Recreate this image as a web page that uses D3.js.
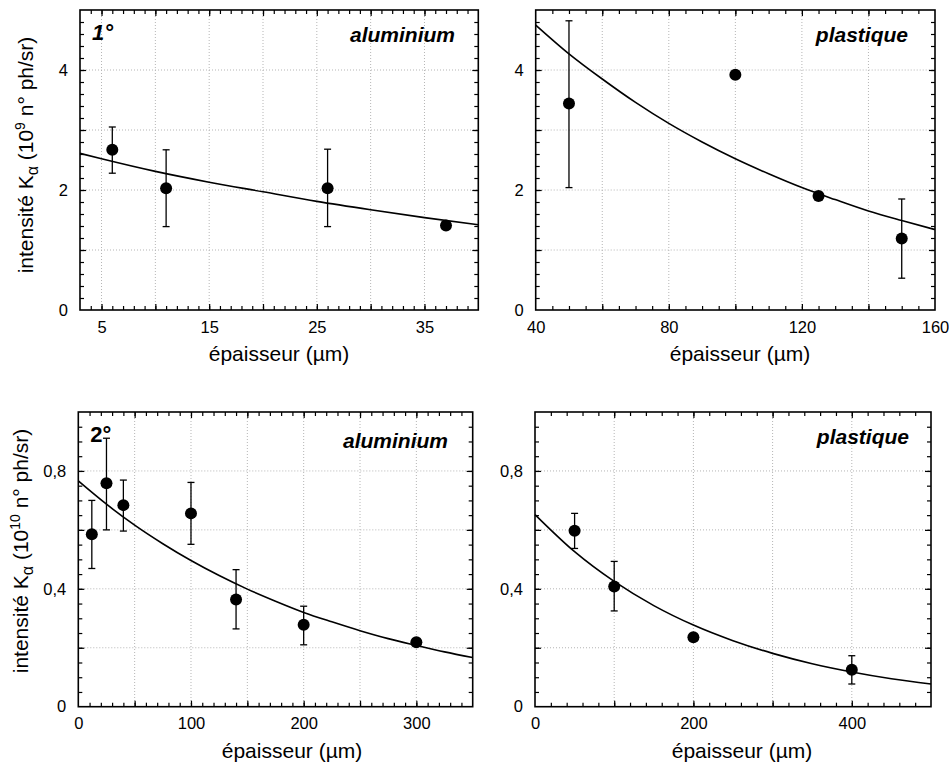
<!DOCTYPE html>
<html>
<head>
<meta charset="utf-8">
<script src="https://cdn.jsdelivr.net/npm/d3@7"></script>
<style>
  html, body { margin: 0; padding: 0; background: #fff; }
  svg { display: block; font-family: "Liberation Sans", Arial, sans-serif; }
</style>
</head>
<body>
<svg id="chart" width="949" height="763"></svg>
<script>
// ---------- DATA ----------
// Panel 1: 1°, aluminium
const al1X = [6, 11, 26, 37];
const al1Y = [2.67, 2.03, 2.03, 1.41];
const al1Lo = [2.28, 1.39, 1.39, null];
const al1Hi = [3.05, 2.67, 2.68, null];
const al1FitX = [3, 5, 10, 15, 20, 25, 30, 35, 40];
const al1FitY = [2.61, 2.52, 2.31, 2.13, 1.97, 1.81, 1.67, 1.54, 1.42];

// Panel 2: 1°, plastique
const pl1X = [50, 100, 125, 150];
const pl1Y = [3.44, 3.92, 1.90, 1.19];
const pl1Lo = [2.04, null, null, 0.53];
const pl1Hi = [4.82, null, null, 1.85];
const pl1FitX = [40, 50, 60, 70, 80, 90, 100, 110, 120, 130, 140, 150, 160];
const pl1FitY = [4.75, 4.27, 3.85, 3.46, 3.11, 2.80, 2.52, 2.27, 2.04, 1.84, 1.65, 1.49, 1.34];

// Panel 3: 2°, aluminium
const al2X = [12, 25, 40, 100, 140, 200, 300];
const al2Y = [0.585, 0.758, 0.684, 0.656, 0.364, 0.278, 0.219];
const al2Lo = [0.469, 0.600, 0.596, 0.551, 0.264, 0.210, null];
const al2Hi = [0.700, 0.911, 0.769, 0.761, 0.465, 0.341, null];
const al2FitX = [0, 25, 50, 75, 100, 125, 150, 175, 200, 225, 250, 275, 300, 325, 350];
const al2FitY = [0.766, 0.687, 0.616, 0.553, 0.496, 0.445, 0.399, 0.358, 0.320, 0.288, 0.258, 0.231, 0.208, 0.186, 0.167];

// Panel 4: 2°, plastique
const pl2X = [50, 100, 200, 400];
const pl2Y = [0.597, 0.408, 0.236, 0.125];
const pl2Lo = [0.537, 0.325, null, 0.077];
const pl2Hi = [0.656, 0.493, null, 0.173];
const pl2FitX = [0, 50, 100, 150, 200, 250, 300, 350, 400, 450, 500];
const pl2FitY = [0.652, 0.526, 0.425, 0.343, 0.277, 0.224, 0.181, 0.146, 0.118, 0.095, 0.077];

// Tick values
const p1XLabels = [5, 15, 25, 35];
const p2XLabels = [40, 80, 120, 160];
const p3XLabels = [0, 100, 200, 300];
const p4XLabels = [0, 200, 400];
const topYLabels = [0, 2, 4];
const botYLabels = [0, 0.4, 0.8];

const xTitle = "épaisseur (µm)";
const materials = ["aluminium", "plastique", "aluminium", "plastique"];
const orders = ["1°", "2°"];

// ---------- DRAWING ----------
const svg = d3.select("#chart");
const fmtComma = v => d3.format("")(v).replace(".", ",");

function range(a, b, step) {
  const out = [];
  const n = Math.round((b - a) / step);
  for (let i = 0; i <= n; i++) out.push(+(a + i * step).toFixed(6));
  return out;
}

function panel(cfg) {
  const g = svg.append("g");
  const x = d3.scaleLinear().domain(cfg.xDomain).range([cfg.left, cfg.right]);
  const y = d3.scaleLinear().domain(cfg.yDomain).range([cfg.bottom, cfg.top]);

  const xMinor = range(cfg.xDomain[0], cfg.xDomain[1], cfg.xMinorStep)
      .filter(v => v > cfg.xDomain[0] && v < cfg.xDomain[1]);
  const xMajor = xMinor.filter(v => Math.abs(v / cfg.xMajorStep - Math.round(v / cfg.xMajorStep)) < 1e-6);
  const yMinor = range(cfg.yDomain[0], cfg.yDomain[1], cfg.yMinorStep)
      .filter(v => v > cfg.yDomain[0] && v < cfg.yDomain[1]);
  const yMajor = yMinor.filter(v => Math.abs(v / cfg.yMajorStep - Math.round(v / cfg.yMajorStep)) < 1e-6);

  // grid
  g.append("g").selectAll("line.gx").data(xMajor).join("line")
    .attr("x1", d => x(d)).attr("x2", d => x(d))
    .attr("y1", cfg.top).attr("y2", cfg.bottom)
    .attr("stroke", "#b5b5b5").attr("stroke-width", 1).attr("stroke-dasharray", "1,2");
  g.append("g").selectAll("line.gy").data(yMajor).join("line")
    .attr("x1", cfg.left).attr("x2", cfg.right)
    .attr("y1", d => y(d)).attr("y2", d => y(d))
    .attr("stroke", "#b5b5b5").attr("stroke-width", 1).attr("stroke-dasharray", "1,2");

  // ticks on all sides, inward
  const tickAxis = (axisFn, scale, vals, size, transform) => {
    const a = g.append("g").attr("transform", transform)
      .call(axisFn(scale).tickValues(vals).tickSize(size).tickFormat(""));
    a.select(".domain").remove();
    a.selectAll(".tick line").attr("stroke", "#000").attr("stroke-width", 1.2);
  };
  tickAxis(d3.axisBottom, x, xMinor, -4, `translate(0,${cfg.bottom})`);
  tickAxis(d3.axisBottom, x, xMajor, -6, `translate(0,${cfg.bottom})`);
  tickAxis(d3.axisTop, x, xMinor, -4, `translate(0,${cfg.top})`);
  tickAxis(d3.axisTop, x, xMajor, -6, `translate(0,${cfg.top})`);
  tickAxis(d3.axisLeft, y, yMinor, -4, `translate(${cfg.left},0)`);
  tickAxis(d3.axisLeft, y, yMajor, -6, `translate(${cfg.left},0)`);
  tickAxis(d3.axisRight, y, yMinor, -4, `translate(${cfg.right},0)`);
  tickAxis(d3.axisRight, y, yMajor, -6, `translate(${cfg.right},0)`);

  // labels
  const xl = g.append("g").attr("transform", `translate(0,${cfg.bottom})`)
    .call(d3.axisBottom(x).tickValues(cfg.xLabels).tickSize(0).tickPadding(11).tickFormat(d3.format("")));
  xl.select(".domain").remove();
  xl.selectAll("text").attr("font-size", 16.5).attr("fill", "#000")
    .attr("font-family", '"Liberation Sans", Arial, sans-serif');
  const yl = g.append("g").attr("transform", `translate(${cfg.left},0)`)
    .call(d3.axisLeft(y).tickValues(cfg.yLabels).tickSize(0).tickPadding(12).tickFormat(cfg.yFormat));
  yl.select(".domain").remove();
  yl.selectAll("text").attr("font-size", 16.5).attr("fill", "#000")
    .attr("font-family", '"Liberation Sans", Arial, sans-serif');

  // frame
  g.append("rect").attr("x", cfg.left).attr("y", cfg.top)
    .attr("width", cfg.right - cfg.left).attr("height", cfg.bottom - cfg.top)
    .attr("fill", "none").attr("stroke", "#000").attr("stroke-width", 1.6);

  // fit line
  const fit = cfg.fitX.map((v, i) => [v, cfg.fitY[i]]);
  g.append("path").datum(fit)
    .attr("d", d3.line().x(d => x(d[0])).y(d => y(d[1])).curve(d3.curveMonotoneX))
    .attr("fill", "none").attr("stroke", "#000").attr("stroke-width", 1.6);

  // error bars
  const pts = cfg.px.map((v, i) => ({ x: v, y: cfg.py[i], lo: cfg.lo[i], hi: cfg.hi[i] }));
  const eb = g.append("g").selectAll("g").data(pts.filter(d => d.lo != null)).join("g")
    .attr("stroke", "#000").attr("stroke-width", 1.3);
  eb.append("line").attr("x1", d => x(d.x)).attr("x2", d => x(d.x))
    .attr("y1", d => y(d.lo)).attr("y2", d => y(d.hi));
  eb.append("line").attr("x1", d => x(d.x) - 3.5).attr("x2", d => x(d.x) + 3.5)
    .attr("y1", d => y(d.lo)).attr("y2", d => y(d.lo));
  eb.append("line").attr("x1", d => x(d.x) - 3.5).attr("x2", d => x(d.x) + 3.5)
    .attr("y1", d => y(d.hi)).attr("y2", d => y(d.hi));

  // points
  g.append("g").selectAll("circle").data(pts).join("circle")
    .attr("cx", d => x(d.x)).attr("cy", d => y(d.y)).attr("r", 6).attr("fill", "#000");

  // material label
  g.append("text").attr("x", cfg.matX).attr("y", cfg.matY).attr("text-anchor", "end")
    .attr("font-size", 21).attr("font-weight", "bold").attr("font-style", "italic")
    .text(cfg.material);
  if (cfg.order) {
    g.append("text").attr("x", cfg.left + 12).attr("y", cfg.top + 30)
      .attr("font-size", 22).attr("font-weight", "bold").attr("font-style", cfg.orderItalic ? "italic" : "normal")
      .text(cfg.order);
  }

  // x title
  g.append("text").attr("x", cfg.xTitleX).attr("y", cfg.bottom + 51).attr("text-anchor", "middle")
    .attr("font-size", 21).text(xTitle);
}

function yTitle(tx, ty, exp) {
  const t = svg.append("text").attr("transform", `translate(${tx},${ty}) rotate(-90)`)
    .attr("text-anchor", "middle").attr("font-size", 21);
  t.append("tspan").text("intensité K");
  t.append("tspan").attr("font-size", 16).attr("dy", 5).text("α");
  t.append("tspan").attr("dy", -5).text("  (10");
  t.append("tspan").attr("font-size", 14).attr("dy", -8).text(exp);
  t.append("tspan").attr("dy", 8).text(" n°  ph/sr)");
}

panel({ left: 80, right: 478.3, top: 10, bottom: 310,
  xDomain: [3, 40], yDomain: [0, 5], xMinorStep: 1, xMajorStep: 5, yMinorStep: 0.2, yMajorStep: 1,
  xLabels: p1XLabels, yLabels: topYLabels, yFormat: d3.format(""),
  px: al1X, py: al1Y, lo: al1Lo, hi: al1Hi, fitX: al1FitX, fitY: al1FitY,
  material: materials[0], matX: 455, matY: 42, order: orders[0], orderItalic: true, xTitleX: 279 });

panel({ left: 535.7, right: 935, top: 10, bottom: 310,
  xDomain: [40, 160], yDomain: [0, 5], xMinorStep: 5, xMajorStep: 20, yMinorStep: 0.2, yMajorStep: 1,
  xLabels: p2XLabels, yLabels: topYLabels, yFormat: d3.format(""),
  px: pl1X, py: pl1Y, lo: pl1Lo, hi: pl1Hi, fitX: pl1FitX, fitY: pl1FitY,
  material: materials[1], matX: 908, matY: 42, order: null, xTitleX: 740 });

panel({ left: 78.3, right: 472.7, top: 412, bottom: 706.7,
  xDomain: [0, 350], yDomain: [0, 1], xMinorStep: 10, xMajorStep: 50, yMinorStep: 0.05, yMajorStep: 0.2,
  xLabels: p3XLabels, yLabels: botYLabels, yFormat: fmtComma,
  px: al2X, py: al2Y, lo: al2Lo, hi: al2Hi, fitX: al2FitX, fitY: al2FitY,
  material: materials[2], matX: 448, matY: 448, order: orders[1], orderItalic: false, xTitleX: 292 });

panel({ left: 535, right: 931, top: 412, bottom: 706.7,
  xDomain: [0, 500], yDomain: [0, 1], xMinorStep: 20, xMajorStep: 100, yMinorStep: 0.05, yMajorStep: 0.2,
  xLabels: p4XLabels, yLabels: botYLabels, yFormat: fmtComma,
  px: pl2X, py: pl2Y, lo: pl2Lo, hi: pl2Hi, fitX: pl2FitX, fitY: pl2FitY,
  material: materials[3], matX: 909, matY: 444, order: null, xTitleX: 742 });

yTitle(33, 155, "9");
yTitle(28, 551, "10");
</script>
</body>
</html>
